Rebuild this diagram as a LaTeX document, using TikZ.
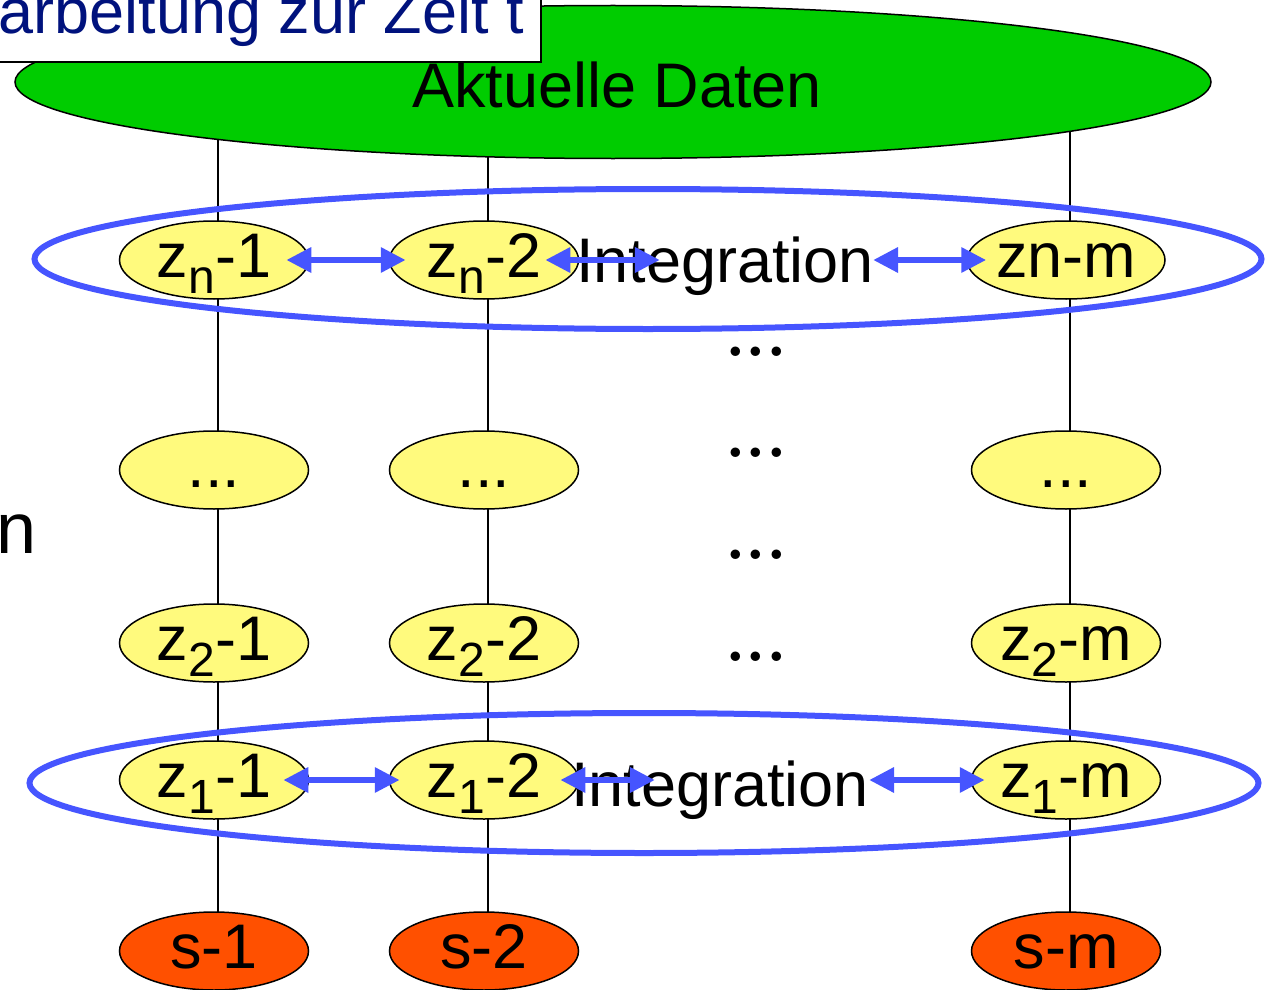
\documentclass[tikz,border=0pt]{standalone}
\usepackage{fontspec}
\setsansfont{Liberation Sans}
\usetikzlibrary{shapes.geometric,arrows.meta,backgrounds,calc}
\definecolor{dgreen}{RGB}{0,204,0}
\definecolor{ylw}{RGB}{255,250,125}
\definecolor{org}{RGB}{255,80,0}
\definecolor{ringblue}{RGB}{70,85,255}
\definecolor{navy}{RGB}{0,18,125}
\newcommand\lbl{\fontsize{63}{70}\selectfont\sffamily}
\newcommand\zs[1]{\raisebox{-16pt}{\fontsize{48}{50}\selectfont #1}}
\begin{document}
\begin{tikzpicture}[x=1pt,y=-1pt,
  yn/.style={ellipse, draw, line width=1.5pt, fill=ylw, minimum width=189pt, minimum height=78pt, inner sep=0pt, font=\lbl, text height=44pt, text depth=10pt},
  sn/.style={yn, fill=org},
  ring/.style={ellipse, draw=ringblue, line width=6pt, inner sep=0pt},
  biarrow/.style={draw=ringblue, line width=6.5pt, {Triangle[length=25pt,width=24pt]}-{Triangle[length=25pt,width=24pt]}},
  col/.style={line width=1.5pt},
  bigdots/.style={font=\fontsize{66}{70}\selectfont\rmfamily\bfseries, inner sep=0pt},
  lab/.style={font=\lbl, inner sep=0pt}]
\useasboundingbox (0,0) rectangle (1272,990);
% top data ellipse
\node[ellipse, draw, line width=1.5pt, fill=dgreen, minimum width=1196pt, minimum height=153pt, inner sep=0pt] (top) at (613,82) {};
\node[lab, anchor=base] (akt) at (617,107) {Aktuelle Daten};
% title box
\draw[fill=white, line width=1.5pt] (-20,-20) rectangle (541,62);
\node[lab, text=navy, anchor=base east] (title) at (524,34) {arbeitung zur Zeit t};
\node[font=\fontsize{72}{80}\selectfont\sffamily, inner sep=0pt, anchor=base west] (nlbl) at (-4,553) {n};
% column nodes
\node[yn] (zn1) at (214,260) {z\zs{n}-1};
\node[yn] (zn2) at (484,260) {z\zs{n}-2};
\node[yn] (znm) at (1066,260) {zn-m};
\node[yn] (dd1) at (214,470) {...};
\node[yn] (dd2) at (484,470) {...};
\node[yn] (ddm) at (1066,470) {...};
\node[yn] (z21) at (214,643) {z\zs{2}-1};
\node[yn] (z22) at (484,643) {z\zs{2}-2};
\node[yn] (z2m) at (1066,643) {z\zs{2}-m};
\node[yn] (z11) at (214,780) {z\zs{1}-1};
\node[yn] (z12) at (484,780) {z\zs{1}-2};
\node[yn] (z1m) at (1066,780) {z\zs{1}-m};
\node[sn] (s1) at (214,951) {s-1};
\node[sn] (s2) at (484,951) {s-2};
\node[sn] (sm) at (1066,951) {s-m};
% vertical connectors
\begin{scope}[on background layer]
\foreach \c in {zn1,zn2,znm}
  \draw[col] ($(top.center -| \c)+(4,0)$) -- ($(\c)+(4,0)$);
\foreach \a/\b in {zn1/dd1,dd1/z21,z21/z11,z11/s1,zn2/dd2,dd2/z22,z22/z12,z12/s2,znm/ddm,ddm/z2m,z2m/z1m,z1m/sm}
  \draw[col] ($(\a)+(4,0)$) -- ($(\b)+(4,0)$);
\end{scope}
% dots
\node[bigdots] (dt1) at (756,352) {...};
\node[bigdots] (dt2) at (756,453) {...};
\node[bigdots] (dt3) at (756,555) {...};
\node[bigdots] (dt4) at (756,657) {...};
% integration rings
\node[ring, minimum width=1227pt, minimum height=140pt] (ring1) at (648,259) {};
\node[ring, minimum width=1229pt, minimum height=140pt] (ring2) at (644,783) {};
\node[lab, anchor=base] (int1) at (725,282) {Integration};
\node[lab, anchor=base] (int2) at (720,806) {Integration};
% arrows
\draw[biarrow] ($(zn1.east)+(-23,0)$) -- ($(zn2.west)+(17,0)$);
\draw[biarrow] ($(zn2.east)+(-34,0)$) -- ($(int1.west |- zn2)+(84,0)$);
\draw[biarrow] ($(int1.east |- znm)+(-1,0)$) -- ($(znm.west)+(20,0)$);
\draw[biarrow] ($(z11.east)+(-26,0)$) -- ($(z12.west)+(11,0)$);
\draw[biarrow] ($(z12.east)+(-19,0)$) -- ($(int2.west |- z12)+(84,0)$);
\draw[biarrow] ($(int2.east |- z1m)+(0,0)$) -- ($(z1m.west)+(14,0)$);
\end{tikzpicture}
\end{document}
